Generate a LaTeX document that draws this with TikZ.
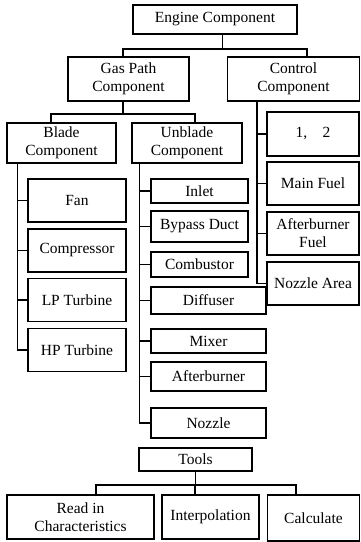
\documentclass[tikz,border=0pt]{standalone}
\usepackage{fontspec}
\setmainfont{Liberation Serif}
\usetikzlibrary{positioning}
\tikzset{
  comp/.style 2 args={
    rectangle, draw=black, line width=1.3pt,
    minimum width=#1, minimum height=#2,
    align=center, inner sep=1pt,
    font=\fontsize{15.5}{18}\selectfont},
  link/.style={line width=1.7pt, black},
}

\begin{document}
\begin{tikzpicture}[x=1pt, y=-1pt]
  \useasboundingbox (0,0) rectangle (361,542);
  % top levels
  \node[comp={164pt}{29pt}] (engine) at (215,19.5) {Engine Component};
  \node[comp={121pt}{44pt}] (gaspath) at (128.5,79) {Gas Path\\Component};
  \node[comp={132pt}{44pt}] (control) at (293.5,79) {Control\\Component};
  \node[comp={109pt}{40pt}] (blade) at (61.5,143) {Blade\\Component};
  \node[comp={110pt}{40pt}] (unblade) at (187,143) {Unblade\\Component};
  % blade components
  \node[comp={98pt}{43pt}] (fan) at (77,200.5) {Fan};
  \node[comp={98pt}{43pt}] (compr) at (77,250.5) {Compressor};
  \node[comp={98pt}{43pt}] (lpt) at (77,300) {LP Turbine};
  \node[comp={98pt}{43pt}] (hpt) at (77,350) {HP Turbine};
  % unblade components
  \node[comp={97pt}{24pt}] (inlet) at (199.5,191) {Inlet};
  \node[comp={97pt}{31pt}] (bypass) at (199.5,226.5) {Bypass Duct};
  \node[comp={97pt}{25pt}] (combust) at (199.5,264.5) {Combustor};
  \node[comp={115pt}{27pt}] (diffuser) at (208.5,300.5) {Diffuser};
  \node[comp={115pt}{24pt}] (mixer) at (208.5,341) {Mixer};
  \node[comp={115pt}{29pt}] (afterb) at (208.5,376.5) {Afterburner};
  \node[comp={115pt}{30pt}] (nozzle) at (208.5,423) {Nozzle};
  % control components
  \node[comp={92pt}{44pt}] (onetwo) at (313,134) {1,\quad2};
  \node[comp={92pt}{43pt}] (mainfuel) at (313,183.5) {Main Fuel};
  \node[comp={92pt}{43pt}] (abfuel) at (313,233.5) {Afterburner\\Fuel};
  \node[comp={92pt}{43pt}] (nozarea) at (313,283.5) {Nozzle Area};
  % tools
  \node[comp={113pt}{23pt}] (tools) at (195.5,459.5) {Tools};
  \node[comp={147pt}{44pt}] (readin) at (80.5,517) {Read in\\Characteristics};
  \node[comp={97pt}{44pt}] (interp) at (210.5,517) {Interpolation};
  \node[comp={92pt}{46pt}] (calc) at (313.5,518) {Calculate};

  % engine tree
  \coordinate (ebus) at ([xshift=7.5pt, yshift=-14pt]engine.south);
  \draw[link] ([xshift=7.5pt]engine.south) -- (ebus);
  \draw[link] ([xshift=-5.5pt]gaspath.north) |- (ebus) -| ([xshift=13.5pt]control.north);
  \coordinate (gbus) at ([xshift=-5.5pt, yshift=-12pt]gaspath.south);
  \draw[link] ([xshift=-5.5pt]gaspath.south) -- (gbus);
  \draw[link] ([xshift=-10.5pt]blade.north) |- (gbus) -| ([xshift=8pt]unblade.north);
  % blade trunk
  \coordinate (btrunk) at ([xshift=11pt]blade.south west);
  \draw[link] (btrunk) |- (hpt.west);
  \foreach \n in {fan,compr,lpt}
    \draw[link] (btrunk |- \n.west) -- (\n.west);
  % unblade trunk
  \coordinate (utrunk) at ([xshift=8pt]unblade.south west);
  \draw[link] (utrunk) |- (nozzle.west);
  \foreach \n in {inlet,bypass,combust,diffuser,mixer,afterb}
    \draw[link] (utrunk |- \n.west) -- (\n.west);
  % control trunk
  \coordinate (ctrunk) at ([xshift=30pt]control.south west);
  \draw[link] (ctrunk) |- (nozarea.west);
  \foreach \n in {onetwo,mainfuel,abfuel}
    \draw[link] (ctrunk |- \n.west) -- (\n.west);
  % tools tree
  \coordinate (tbus) at ([yshift=-13pt]tools.south);
  \draw[link] (tools.south) -- (tbus);
  \draw[link] ([xshift=15.5pt]readin.north) |- (tbus) -| ([xshift=-17.5pt]calc.north);
  \draw[link] ([xshift=-15.5pt]interp.north) -- ([xshift=-15.5pt]interp.north |- tbus);
\end{tikzpicture}
\end{document}
